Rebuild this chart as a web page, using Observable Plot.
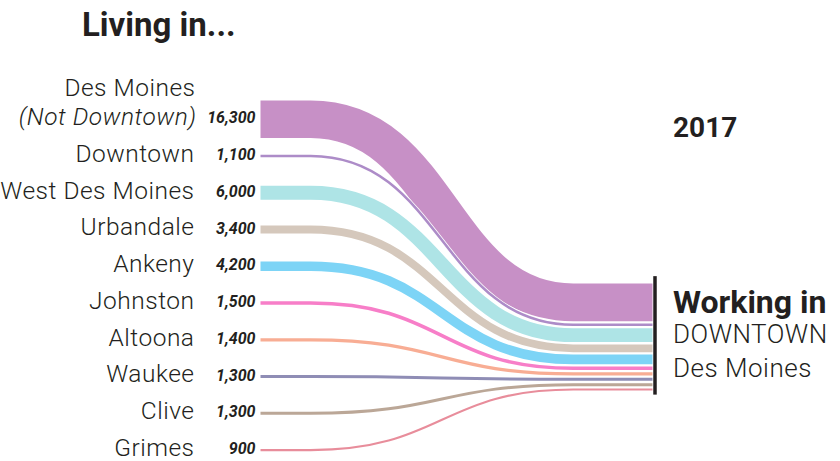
<!DOCTYPE html>
<html>
<head>
<meta charset="utf-8">
<script src="https://cdn.jsdelivr.net/npm/d3@7"></script>
<script src="https://cdn.jsdelivr.net/npm/@observablehq/plot@0.6"></script>
<style>
  body { margin: 0; background: #fff; font-family: Roboto, "Noto Sans", sans-serif; color: #231f20; }
  #wrap { position: relative; width: 840px; height: 461px; overflow: hidden; }
  .t { position: absolute; white-space: nowrap; line-height: 1; color: #231f20; }
  svg { display: block; }
  .sub { letter-spacing: 0.5px; }
</style>
</head>
<body>
<div id="wrap">
  <div id="chart"></div>
  <div class="t" style="left:82px;top:8px;font-size:33px;font-weight:700;">Living in...</div>
  <div class="t" style="left:673px;top:114px;font-size:28px;font-weight:700;">2017</div>
  <div class="t" style="left:673px;top:286px;font-size:32px;font-weight:700;">Working in</div>
  <div class="t sub" style="left:673px;top:321px;font-size:26px;font-weight:300;">DOWNTOWN</div>
  <div class="t sub" style="left:673px;top:355px;font-size:26px;font-weight:300;">Des Moines</div>
</div>
<script>
// ---- data ----
const cities = ["Des Moines", "Downtown", "West Des Moines", "Urbandale", "Ankeny",
                "Johnston", "Altoona", "Waukee", "Clive", "Grimes"];
const notes = ["(Not Downtown)", "", "", "", "", "", "", "", "", ""];
const workers = [16300, 1100, 6000, 3400, 4200, 1500, 1400, 1300, 1300, 900];
const colors = ["#c790c6", "#ad8cc8", "#aee4e6", "#d5c8bc", "#7dd4f6",
                "#f77ec8", "#f8ad94", "#8f8db5", "#bba797", "#e88d9b"];

// ---- layout (y in thousands of workers) ----
const W = 840, H = 461;
const Y_MAX = 200;
const ROW_FIRST = 51.5, ROW_STEP = 15.95;    // left node rows
const STACK_TOP = 122.8, GAP = 1;            // right stacked node
const BEND_START = 0.128, BEND_END = 0.798;  // stage fractions

const yScale = Plot.scale({y: {domain: [0, Y_MAX], range: [0, H]}});
const px = v => yScale.apply(v / 1000) - yScale.apply(0);

let cum = STACK_TOP;
const rows = cities.map((c, i) => {
  const k = workers[i] / 1000;
  const yR = cum + k / 2;
  cum += k + GAP;
  return {city: c, note: notes[i], value: workers[i], label: d3.format(",")(workers[i]),
          yL: ROW_FIRST + i * ROW_STEP, yR, color: colors[i]};
});
const stackBottom = cum - GAP;

const flowMarks = [];
rows.forEach(r => {
  const pts = [
    {x: 0, y: r.yL}, {x: BEND_START, y: r.yL},
    {x: BEND_END, y: r.yR}, {x: 1, y: r.yR}
  ];
  const w = px(r.value);
  flowMarks.push(Plot.line(pts, {x: "x", y: "y", curve: "bump-x", stroke: "#ffffff",
    strokeWidth: w + 1.6, strokeLinecap: "butt", strokeLinejoin: "round"}));
  flowMarks.push(Plot.line(pts, {x: "x", y: "y", curve: "bump-x", stroke: r.color,
    strokeWidth: w, strokeLinecap: "butt", strokeLinejoin: "round"}));
});

const first = rows.filter(r => r.note);
const others = rows.filter(r => !r.note);

const chart = Plot.plot({
  width: W, height: H,
  marginLeft: 260, marginRight: W - 652, marginTop: 0, marginBottom: 0,
  x: {domain: [0, 1], axis: null},
  y: {domain: [0, Y_MAX], range: [0, H], axis: null},
  style: {fontFamily: "Roboto, 'Noto Sans', sans-serif", color: "#231f20", background: "#fff"},
  marks: [
    ...flowMarks,
    Plot.ruleX([1], {y1: STACK_TOP - 3, y2: stackBottom + 2, dx: 2.5, stroke: "#231f20", strokeWidth: 3.5}),
    Plot.text(rows, {x: () => 0, y: "yL", text: "label", textAnchor: "end", dx: -5, dy: -1,
      fontSize: 16, fontWeight: 700, fontStyle: "italic", fill: "#231f20"}),
    Plot.text(others, {x: () => 0, y: "yL", text: "city", textAnchor: "end", dx: -66, dy: -2,
      fontSize: 24.5, fontWeight: 300, fill: "#231f20"}),
    Plot.text(first, {x: () => 0, y: "yL", text: "city", textAnchor: "end", dx: -65, dy: -31,
      fontSize: 24.5, fontWeight: 300, fill: "#231f20"}),
    Plot.text(first, {x: () => 0, y: "yL", text: "note", textAnchor: "end", dx: -64, dy: -2.5,
      fontSize: 24.5, fontWeight: 300, fontStyle: "italic", fill: "#231f20"})
  ]
});
// widen the city labels' tracking
d3.select(chart).selectAll("text")
  .filter(function() { const s = this.textContent; return cities.includes(s) || notes.includes(s); })
  .style("letter-spacing", "0.5px");
document.getElementById("chart").appendChild(chart);
</script>
</body>
</html>
